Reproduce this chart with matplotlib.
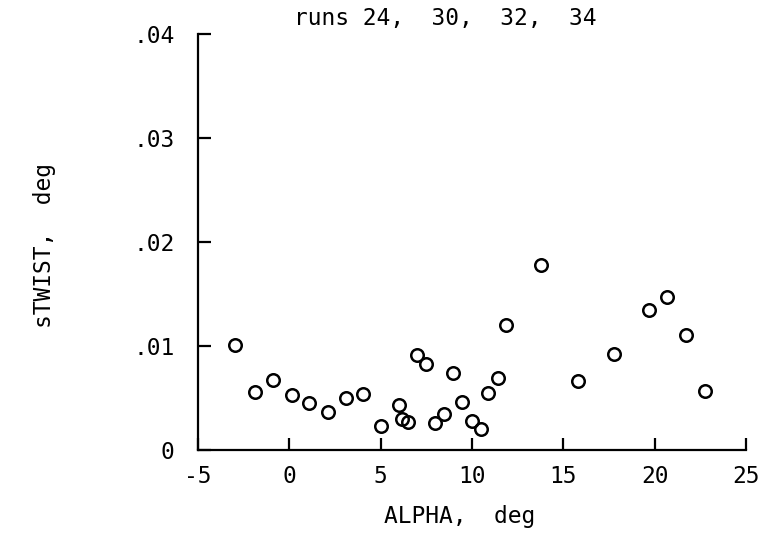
import matplotlib
matplotlib.use("Agg")
import matplotlib.pyplot as plt

# alpha (deg) vs sTWIST (deg), runs 24, 30, 32, 34
alpha = [-2.97, -1.88, -0.91, 0.13, 1.09, 2.10, 3.08, 4.05, 5.02, 6.00,
         6.18, 6.50, 6.97, 7.46, 7.97, 8.46, 8.97, 9.47, 9.98, 10.47,
         10.88, 11.44, 11.86, 13.77, 15.81, 17.77, 19.70, 20.65, 21.71, 22.77]
stwist = [0.0101, 0.0056, 0.0067, 0.0053, 0.0045, 0.0037, 0.0050, 0.0054, 0.0023, 0.0043,
          0.0030, 0.0027, 0.0091, 0.0083, 0.0026, 0.0035, 0.0074, 0.0046, 0.0028, 0.0020,
          0.0055, 0.0069, 0.0120, 0.0178, 0.0066, 0.0092, 0.0135, 0.0147, 0.0111, 0.0057]

xticks = [-5, 0, 5, 10, 15, 20, 25]
xlabels = ["-5", "0", "5", "10", "15", "20", "25"]
yticks = [0, 0.01, 0.02, 0.03, 0.04]
ylabels = ["0", ".01", ".02", ".03", ".04"]

plt.rcParams["font.family"] = "DejaVu Sans Mono"
fig = plt.figure(figsize=(7.64, 5.54), dpi=100)
ax = fig.add_axes([198 / 764, 1 - 450 / 554, 548 / 764, 416 / 554])

ax.plot(alpha, stwist, "o", ms=9, mfc="none", mec="black", mew=1.8, ls="none")

ax.set_xlim(-5, 25)
ax.set_ylim(0, 0.04)
ax.set_xticks(xticks)
ax.set_xticklabels(xlabels)
ax.set_yticks(yticks)
ax.set_yticklabels(ylabels)
ax.spines["top"].set_visible(False)
ax.spines["right"].set_visible(False)
for s in ("left", "bottom"):
    ax.spines[s].set_linewidth(1.6)
ax.tick_params(direction="in", length=9, width=1.6, labelsize=16.5)
ax.tick_params(axis="x", pad=11)
ax.tick_params(axis="y", pad=17)

fig.text(445 / 764, 1 - 18 / 554, "runs 24,  30,  32,  34", fontsize=16.5,
         ha="center", va="center")
fig.text(460 / 764, 1 - 517 / 554, "ALPHA,  deg", fontsize=16.5, ha="center", va="center")
fig.text(45 / 764, 1 - 245 / 554, "sTWIST,  deg", fontsize=16.5, ha="center", va="center",
         rotation=90)

fig.savefig("out.png", dpi=100)
